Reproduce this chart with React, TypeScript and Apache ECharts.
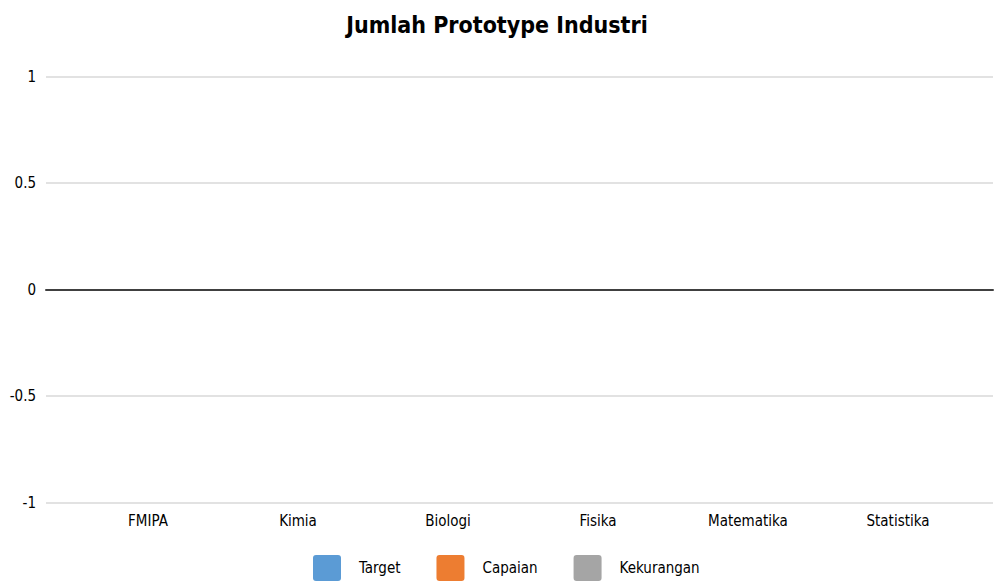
import React, { useEffect, useRef } from "react";
import * as echarts from "echarts";

const titleText = "Jumlah Prototype Industri";
const categories = ["FMIPA", "Kimia", "Biologi", "Fisika", "Matematika", "Statistika"];
const seriesNames = ["Target", "Capaian", "Kekurangan"];
const targetValues = [0, 0, 0, 0, 0, 0];
const capaianValues = [0, 0, 0, 0, 0, 0];
const kekuranganValues = [0, 0, 0, 0, 0, 0];
const seriesColors = ["#5b9bd5", "#ed7d31", "#a5a5a5"];

const FONT = "'Liberation Sans Narrow', 'DejaVu Sans Condensed', 'Roboto Condensed', sans-serif";
const LEGEND_ICON =
  "path://M3,0 H25 Q28,0 28,3 V23 Q28,26 25,26 H3 Q0,26 0,23 V3 Q0,0 3,0 Z";

export default function App() {
  const ref = useRef<HTMLDivElement>(null);
  useEffect(() => {
    if (!ref.current) return;
    const chart = echarts.init(ref.current, undefined, { renderer: "svg" });
    const allValues = [targetValues, capaianValues, kekuranganValues];
    chart.setOption({
      animation: false,
      backgroundColor: "#ffffff",
      textStyle: { fontFamily: FONT },
      title: {
        text: titleText,
        left: "center",
        top: 8,
        textStyle: { fontFamily: FONT, fontSize: 23, fontWeight: "bold", color: "#000000" },
      },
      legend: {
        data: seriesNames,
        top: 555,
        left: 313,
        padding: 0,
        itemWidth: 28,
        itemHeight: 26,
        itemGap: 36,
        icon: LEGEND_ICON,
        textStyle: { fontFamily: FONT, fontSize: 15, color: "#000000", padding: [0, 0, 0, 13] },
      },
      grid: [
        { left: 46, right: 1, top: 76.5, bottom: 78.5 },
        { left: 73, right: 21, top: 76.5, bottom: 78.5 },
      ],
      xAxis: [
        {
          type: "category",
          gridIndex: 0,
          data: categories,
          axisLabel: { show: false },
          axisTick: { show: false },
          axisLine: { show: true, onZero: true, lineStyle: { color: "#404040", width: 2 } },
          splitLine: { show: false },
        },
        {
          type: "category",
          gridIndex: 1,
          data: categories,
          position: "bottom",
          axisLabel: { show: true, margin: 11, fontFamily: FONT, fontSize: 15, color: "#000000" },
          axisTick: { show: false },
          axisLine: { show: false, onZero: false },
          splitLine: { show: false },
        },
      ],
      yAxis: [
        {
          type: "value",
          gridIndex: 0,
          min: -1,
          max: 1,
          interval: 0.5,
          axisLabel: { margin: 10, fontFamily: FONT, fontSize: 15, color: "#000000" },
          axisLine: { show: false },
          axisTick: { show: false },
          splitLine: { show: true, lineStyle: { color: "#d9d9d9", width: 1.5 } },
        },
        {
          type: "value",
          gridIndex: 1,
          min: -1,
          max: 1,
          interval: 0.5,
          show: false,
          splitLine: { show: false },
        },
      ],
      series: seriesNames.map((name, i) => ({
        name,
        type: "bar",
        xAxisIndex: 1,
        yAxisIndex: 1,
        data: allValues[i],
        itemStyle: { color: seriesColors[i] },
      })),
    });
    return () => chart.dispose();
  }, []);
  return (
    <div
      ref={ref}
      style={{ position: "fixed", left: 0, top: 0, width: 994, height: 581 }}
    />
  );
}
